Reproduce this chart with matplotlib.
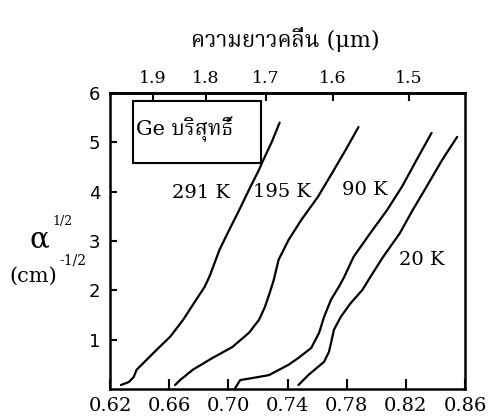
import matplotlib
matplotlib.use("Agg")
import matplotlib.pyplot as plt
import numpy as np

# Photon energy (eV) and sqrt(absorption coefficient) for pure Ge
energy_291K = [0.6274, 0.6327, 0.6360, 0.6380, 0.6427, 0.6514, 0.6607, 0.6694,
               0.6774, 0.6840, 0.6874, 0.6940, 0.7007, 0.7074, 0.7140, 0.7207,
               0.7227, 0.7294, 0.7347]
alpha_291K = [0.08, 0.14, 0.24, 0.39, 0.53, 0.79, 1.06, 1.40, 1.77, 2.07, 2.29,
              2.82, 3.23, 3.63, 4.04, 4.44, 4.58, 5.01, 5.40]

energy_195K = [0.6640, 0.6674, 0.6760, 0.6894, 0.7027, 0.7140, 0.7207, 0.7247,
               0.7280, 0.7307, 0.7340, 0.7407, 0.7494, 0.7607, 0.7714, 0.7794,
               0.7880]
alpha_195K = [0.08, 0.18, 0.39, 0.63, 0.85, 1.14, 1.40, 1.66, 1.95, 2.21, 2.62,
              3.02, 3.43, 3.90, 4.44, 4.85, 5.31]

energy_90K = [0.7047, 0.7080, 0.7160, 0.7274, 0.7407, 0.7474, 0.7560, 0.7614,
              0.7647, 0.7694, 0.7747, 0.7780, 0.7847, 0.7960, 0.8074, 0.8174,
              0.8274, 0.8374]
alpha_90K = [0.02, 0.18, 0.22, 0.28, 0.49, 0.63, 0.83, 1.14, 1.46, 1.81, 2.07,
             2.25, 2.68, 3.16, 3.63, 4.10, 4.65, 5.19]

energy_20K = [0.7474, 0.7540, 0.7647, 0.7680, 0.7694, 0.7714, 0.7760, 0.7827,
              0.7907, 0.7960, 0.8047, 0.8160, 0.8247, 0.8340, 0.8447, 0.8547]
alpha_20K = [0.08, 0.28, 0.55, 0.75, 0.93, 1.20, 1.46, 1.74, 2.01, 2.27, 2.68,
             3.16, 3.63, 4.10, 4.65, 5.11]

curve_labels = ["291 K", "195 K", "90 K", "20 K"]
label_pos = [(0.6620, 3.98), (0.7170, 4.00), (0.7770, 4.04), (0.8155, 2.62)]

x_ticks = [0.62, 0.66, 0.70, 0.74, 0.78, 0.82, 0.86]
x_ticklabels = ["0.62", "0.66", "0.70", "0.74", "0.78", "0.82", "0.86"]
y_ticks = [1, 2, 3, 4, 5, 6]
wl_ticks = [1.9, 1.8, 1.7, 1.6, 1.5]
HC = 1.233  # eV*um used for the wavelength scale

serif = ["DejaVu Serif", "Noto Serif Thai"]

fig = plt.figure(figsize=(5, 4.16), dpi=100)
ax = fig.add_axes([0.22, 0.065, 0.71, 0.7115])
ax.set_xlim(0.6227, 0.8594)
ax.set_ylim(0, 6)

for e, a in [(energy_291K, alpha_291K), (energy_195K, alpha_195K),
             (energy_90K, alpha_90K), (energy_20K, alpha_20K)]:
    ax.plot(e, a, color="black", lw=1.6, solid_capstyle="round",
            solid_joinstyle="round")

for txt, (x, y) in zip(curve_labels, label_pos):
    ax.text(x, y, txt, fontsize=14, family=serif, ha="left", va="center")

for s in ax.spines.values():
    s.set_linewidth(1.8)

ax.set_xticks(x_ticks)
ax.set_xticklabels(x_ticklabels, family=serif, fontsize=14)
ax.set_yticks(y_ticks)
ax.set_yticklabels([str(v) for v in y_ticks], family="DejaVu Sans", fontsize=13)
ax.tick_params(axis="x", direction="in", length=7, width=1.5, pad=6)
ax.tick_params(axis="y", direction="in", length=5, width=1.5, pad=7)

top = ax.secondary_xaxis("top", functions=(lambda e: HC / np.asarray(e),
                                           lambda w: HC / np.asarray(w)))
top.set_xticks(wl_ticks)
top.set_xticklabels([f"{v:.1f}" for v in wl_ticks], family=serif, fontsize=12.5)
top.tick_params(direction="in", length=6, width=1.5, pad=4)
top.spines["top"].set_linewidth(1.8)

# inset sample box
ax.add_patch(plt.Rectangle((0.6354, 4.58), 0.0866, 1.26, fill=False,
                           lw=1.5, edgecolor="black"))
ax.text(0.6375, 5.27, "Ge บริสุทธิ์", family=serif, fontsize=15,
        ha="left", va="center")

fig.text(0.57, 0.905, "ความยาวคลื่น (μm)", family=serif, fontsize=16,
         ha="center", va="center")

# y-axis label: alpha^(1/2) (cm)^(-1/2)
fig.text(0.078, 0.425, "α", family=serif, fontsize=21, ha="center", va="center")
fig.text(0.104, 0.468, "1/2", family=serif, fontsize=9, ha="left", va="center")
fig.text(0.018, 0.335, "(cm)", family=serif, fontsize=15, ha="left", va="center")
fig.text(0.118, 0.373, "-1/2", family=serif, fontsize=10, ha="left", va="center")

fig.savefig("out.png", dpi=100)
